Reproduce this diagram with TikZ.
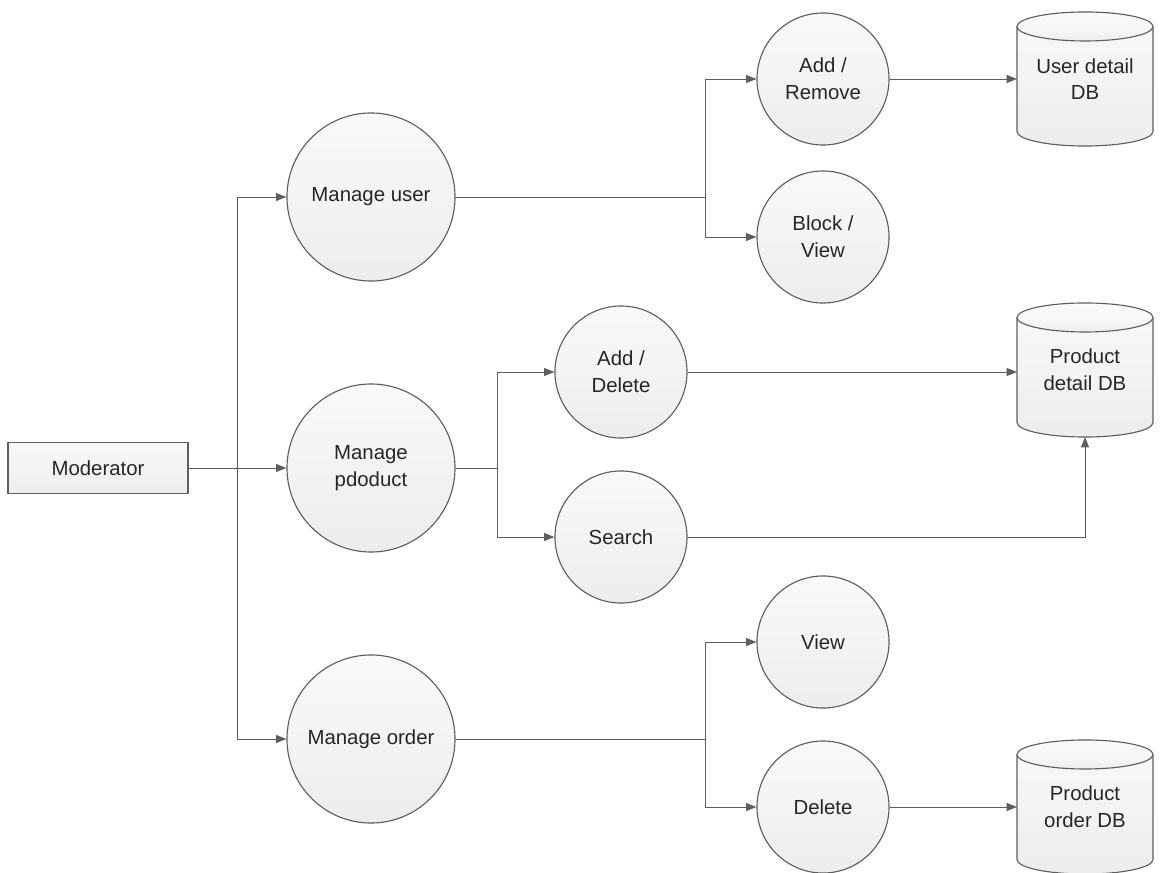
\documentclass[tikz,border=0pt]{standalone}
\usepackage{fontspec}
\setmainfont{Liberation Sans}
\usetikzlibrary{arrows.meta,backgrounds}

\definecolor{edgegray}{HTML}{5E5E5E}
\definecolor{filltop}{HTML}{F9F9F9}
\definecolor{fillbottom}{HTML}{EDEDED}
\definecolor{textgray}{HTML}{262626}

\def\dbry{0.3625cm}
% cylinder drawn behind a db node
\newcommand{\dbcyl}[1]{%
  \begin{scope}[on background layer]
  \draw[dbline] ([yshift=-\dbry]#1.north west) -- ([yshift=\dbry]#1.south west)
    arc[start angle=180, end angle=360, x radius=1.7cm, y radius=\dbry]
    -- ([yshift=-\dbry]#1.north east)
    arc[start angle=0, end angle=180, x radius=1.7cm, y radius=\dbry] -- cycle;
  \draw[dbline] ([yshift=-\dbry]#1.north west)
    arc[start angle=180, end angle=360, x radius=1.7cm, y radius=\dbry];
  \end{scope}}

\begin{document}
\begin{tikzpicture}[x=0.025cm, y=-0.025cm,
  every node/.style={text=textgray, font=\fontsize{14.5}{19}\selectfont, align=center},
  shapefill/.style={top color=filltop, bottom color=fillbottom},
  bigproc/.style={circle, draw=edgegray, line width=0.8pt, shapefill, minimum size=4.2cm, inner sep=0pt},
  smallproc/.style={circle, draw=edgegray, line width=0.8pt, shapefill, minimum size=3.3cm, inner sep=0pt},
  actor/.style={rectangle, draw=edgegray, line width=0.8pt, shapefill, minimum width=4.5cm, minimum height=1.275cm},
  dbnode/.style={rectangle, minimum width=3.4cm, minimum height=3.35cm, inner sep=0pt, outer sep=0pt},
  dbline/.style={draw=edgegray, line width=0.8pt, shapefill},
  link/.style={draw=edgegray, line width=0.7pt},
  flow/.style={link, -{Triangle[length=0.26cm, width=0.2cm]}}]

\useasboundingbox (0,0) rectangle (1165,873);

% actor and main processes
\draw (98,468) node[actor] (mod) {Moderator};
\draw (371,197) node[bigproc] (muser) {Manage user};
\draw (371,468) node[bigproc] (mprod) {Manage\\pdoduct};
\draw (371,739) node[bigproc] (morder) {Manage order};

% sub processes
\draw (823,79) node[smallproc] (addrem) {Add /\\Remove};
\draw (823,237) node[smallproc] (blkview) {Block /\\View};
\draw (621,372) node[smallproc] (adddel) {Add /\\Delete};
\draw (621,537) node[smallproc] (search) {Search};
\draw (823,642) node[smallproc] (view) {View};
\draw (823,807) node[smallproc] (delete) {Delete};

% data stores
\draw (1085,79) node[dbnode] (udb) {User detail\\DB};
\draw (1085,370) node[dbnode] (pdb) {Product\\detail DB};
\draw (1085,807) node[dbnode] (odb) {Product\\order DB};
\dbcyl{udb}
\dbcyl{pdb}
\dbcyl{odb}

% junctions
\coordinate (jmod) at (237,468);
\coordinate (juser) at (705,197);
\coordinate (jprod) at (497,468);
\coordinate (jorder) at (705,739);

% connectors
\draw[flow] (mod.east) -- (mprod.west);
\draw[flow] (jmod) |- (muser.west);
\draw[flow] (jmod) |- (morder.west);

\draw[link] (muser.east) -- (juser);
\draw[flow] (juser) |- (addrem.west);
\draw[flow] (juser) |- (blkview.west);

\draw[link] (mprod.east) -- (jprod);
\draw[flow] (jprod) |- (adddel.west);
\draw[flow] (jprod) |- (search.west);

\draw[link] (morder.east) -- (jorder);
\draw[flow] (jorder) |- (view.west);
\draw[flow] (jorder) |- (delete.west);

\draw[flow] (addrem.east) -- (udb.west |- addrem.east);
\draw[flow] (adddel.east) -- (pdb.west |- adddel.east);
\draw[flow] (search.east) -| (pdb.south);
\draw[flow] (delete.east) -- (odb.west |- delete.east);

\end{tikzpicture}
\end{document}
